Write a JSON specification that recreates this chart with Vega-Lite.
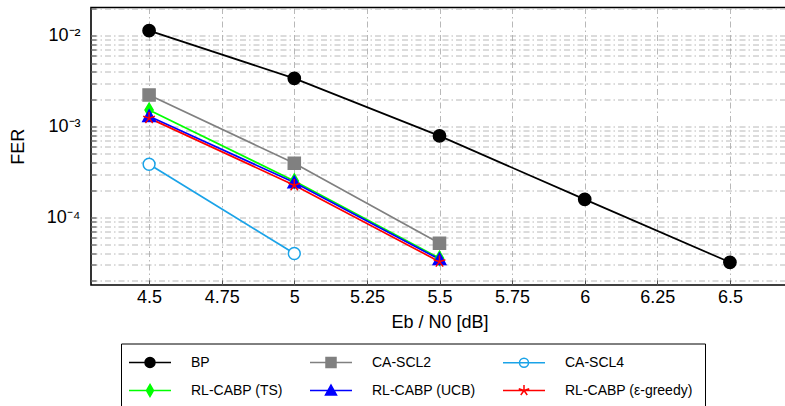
{
  "$schema": "https://vega.github.io/schema/vega-lite/v6.json",
  "width": 697,
  "height": 277.5,
  "autosize": {"type": "none"},
  "padding": {"left": 91, "top": 7.5, "right": 0, "bottom": 121},
  "background": "white",
  "config": {
    "font": "Liberation Sans",
    "view": {"stroke": "black", "strokeWidth": 1.6},
    "axis": {
      "grid": true,
      "gridColor": "#b0b0b0",
      "gridDash": [6, 3, 1.5, 3],
      "gridWidth": 0.9,
      "domain": false,
      "ticks": true,
      "tickColor": "#555555",
      "tickSize": -5,
      "labelFont": "Liberation Sans",
      "labelFontSize": 18,
      "labelColor": "black",
      "titleFont": "Liberation Sans",
      "titleFontSize": 18,
      "titleFontWeight": "normal",
      "titleColor": "black",
      "labelOverlap": false,
      "labelBound": false
    }
  },
  "data": {
    "values": [
      {"series": "BP", "snr": 4.5, "fer": 0.0114},
      {"series": "BP", "snr": 5.0, "fer": 0.0034},
      {"series": "BP", "snr": 5.5, "fer": 0.00079},
      {"series": "BP", "snr": 6.0, "fer": 0.000158},
      {"series": "BP", "snr": 6.5, "fer": 0.000032},
      {"series": "CA-SCL2", "snr": 4.5, "fer": 0.00223},
      {"series": "CA-SCL2", "snr": 5.0, "fer": 0.000394},
      {"series": "CA-SCL2", "snr": 5.5, "fer": 0.000052},
      {"series": "CA-SCL4", "snr": 4.5, "fer": 0.000385},
      {"series": "CA-SCL4", "snr": 5.0, "fer": 0.00004},
      {"series": "RL-CABP (TS)", "snr": 4.5, "fer": 0.00152},
      {"series": "RL-CABP (TS)", "snr": 5.0, "fer": 0.000252},
      {"series": "RL-CABP (TS)", "snr": 5.5, "fer": 0.0000355},
      {"series": "RL-CABP (UCB)", "snr": 4.5, "fer": 0.0013},
      {"series": "RL-CABP (UCB)", "snr": 5.0, "fer": 0.000242},
      {"series": "RL-CABP (UCB)", "snr": 5.5, "fer": 0.0000345},
      {"series": "RL-CABP (ε-greedy)", "snr": 4.5, "fer": 0.00124},
      {"series": "RL-CABP (ε-greedy)", "snr": 5.0, "fer": 0.000226},
      {"series": "RL-CABP (ε-greedy)", "snr": 5.5, "fer": 0.0000325}
    ]
  },
  "encoding": {
    "x": {
      "field": "snr",
      "type": "quantitative",
      "scale": {"domain": [4.3, 6.7], "nice": false, "zero": false},
      "axis": {
        "values": [4.5, 4.75, 5, 5.25, 5.5, 5.75, 6, 6.25, 6.5],
        "labelExpr": "'' + datum.value",
        "title": "Eb / N0 [dB]",
        "labelPadding": 8,
        "titlePadding": 7
      }
    },
    "y": {
      "field": "fer",
      "type": "quantitative",
      "scale": {"type": "log", "domain": [0.000018, 0.0205], "nice": false},
      "axis": {
        "values": [0.00002, 0.00003, 0.00004, 0.00005, 0.00006, 0.00007, 0.00008, 0.00009, 0.0001, 0.0002, 0.0003, 0.0004, 0.0005, 0.0006, 0.0007, 0.0008, 0.0009, 0.001, 0.002, 0.003, 0.004, 0.005, 0.006, 0.007, 0.008, 0.009, 0.01, 0.02],
        "labelExpr": "datum.value == 0.01 ? '10⁻²' : datum.value == 0.001 ? '10⁻³' : datum.value == 0.0001 ? '10⁻⁴' : ''",
        "title": "FER",
        "labelPadding": 16,
        "titlePadding": 19
      }
    }
  },
  "layer": [
    {
      "mark": {"type": "line", "strokeWidth": 1.7},
      "encoding": {
        "color": {
          "field": "series",
          "type": "nominal",
          "scale": {
            "domain": ["BP", "CA-SCL2", "CA-SCL4", "RL-CABP (TS)", "RL-CABP (UCB)", "RL-CABP (ε-greedy)"],
            "range": ["#000000", "#808080", "#1aa3e8", "#00ff00", "#0000ff", "#ff0000"]
          },
          "legend": null
        }
      }
    },
    {
      "mark": {"type": "point", "filled": false, "strokeWidth": 1.5, "opacity": 1},
      "encoding": {
        "color": {
          "field": "series",
          "type": "nominal",
          "scale": {
            "domain": ["BP", "CA-SCL2", "CA-SCL4", "RL-CABP (TS)", "RL-CABP (UCB)", "RL-CABP (ε-greedy)"],
            "range": ["#000000", "#808080", "#1aa3e8", "#00ff00", "#0000ff", "#ff0000"]
          },
          "legend": null
        },
        "fill": {
          "field": "series",
          "type": "nominal",
          "scale": {
            "domain": ["BP", "CA-SCL2", "CA-SCL4", "RL-CABP (TS)", "RL-CABP (UCB)", "RL-CABP (ε-greedy)"],
            "range": ["#000000", "#808080", "#ffffff", "#00ff00", "#0000ff", "#ff0000"]
          },
          "legend": null
        },
        "shape": {
          "field": "series",
          "type": "nominal",
          "scale": {
            "domain": ["BP", "CA-SCL2", "CA-SCL4", "RL-CABP (TS)", "RL-CABP (UCB)", "RL-CABP (ε-greedy)"],
            "range": ["circle", "square", "circle", "M0,-1.2L0.7,0L0,1.2L-0.7,0Z", "M0,-1.1L1.1,0.9L-1.1,0.9Z", "M0,0L0,-1.1M0,0L1.05,-0.34M0,0L0.65,0.89M0,0L-0.65,0.89M0,0L-1.05,-0.34"]
          },
          "legend": null
        },
        "size": {
          "field": "series",
          "type": "nominal",
          "scale": {
            "domain": ["BP", "CA-SCL2", "CA-SCL4", "RL-CABP (TS)", "RL-CABP (UCB)", "RL-CABP (ε-greedy)"],
            "range": [150, 125, 95, 110, 110, 120]
          },
          "legend": null
        }
      }
    },
    {
      "mark": {"type": "point", "filled": false, "strokeWidth": 1.5, "opacity": 0},
      "encoding": {
        "color": {
          "field": "series",
          "type": "nominal",
          "scale": {
            "domain": ["BP", "RL-CABP (TS)", "CA-SCL2", "RL-CABP (UCB)", "CA-SCL4", "RL-CABP (ε-greedy)"],
            "range": ["#000000", "#00ff00", "#808080", "#0000ff", "#1aa3e8", "#ff0000"]
          },
          "legend": {
            "title": null,
            "orient": "none",
            "legendX": 30,
            "legendY": 336,
            "columns": 3,
            "gridAlign": "each",
            "strokeColor": "black",
            "padding": 12,
            "symbolSize": 100,
            "symbolStrokeWidth": 1.5,
            "symbolOffset": 10,
            "symbolOpacity": 1,
            "labelOffset": 34,
            "labelFont": "Liberation Sans",
            "labelFontSize": 14,
            "labelColor": "black",
            "columnPadding": 24,
            "rowPadding": 11,
            "labelLimit": 300,
            "encode": {"symbols": {"update": {"opacity": {"value": 1}}}}
          }
        },
        "fill": {
          "field": "series",
          "type": "nominal",
          "scale": {
            "domain": ["BP", "RL-CABP (TS)", "CA-SCL2", "RL-CABP (UCB)", "CA-SCL4", "RL-CABP (ε-greedy)"],
            "range": ["#000000", "#00ff00", "#808080", "#0000ff", "transparent", "#ff0000"]
          }
        },
        "shape": {
          "field": "series",
          "type": "nominal",
          "scale": {
            "domain": ["BP", "RL-CABP (TS)", "CA-SCL2", "RL-CABP (UCB)", "CA-SCL4", "RL-CABP (ε-greedy)"],
            "range": [
              "M-4.2,0L4.2,0M1,0A1,1,0,1,1,-1,0A1,1,0,1,1,1,0Z",
              "M-4.2,0L4.2,0M0,-1.2L0.7,0L0,1.2L-0.7,0Z",
              "M-4.2,0L4.2,0M-1,-1L1,-1L1,1L-1,1Z",
              "M-4.2,0L4.2,0M0,-1.1L1.1,0.9L-1.1,0.9Z",
              "M-4.2,0L4.2,0M0.9,0A0.9,0.9,0,1,1,-0.9,0A0.9,0.9,0,1,1,0.9,0Z",
              "M-4.2,0L4.2,0M0,0L0,-1.1M0,0L1.05,-0.34M0,0L0.65,0.89M0,0L-0.65,0.89M0,0L-1.05,-0.34"
            ]
          }
        }
      }
    }
  ],
  "resolve": {"scale": {"color": "independent", "fill": "independent", "shape": "independent", "size": "independent"}}
}
